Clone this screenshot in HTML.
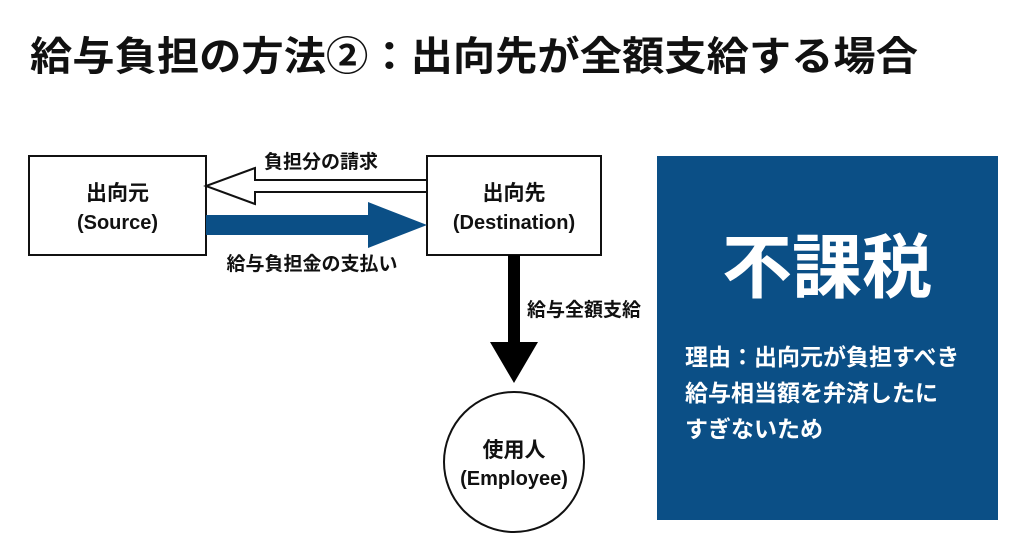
<!DOCTYPE html>
<html><head><meta charset="utf-8"><style>
body{margin:0;width:1024px;height:549px;background:#fff;overflow:hidden;font-family:"Liberation Sans","Noto Sans CJK JP",sans-serif;}
</style></head><body>
<svg width="1024" height="549" viewBox="0 0 1024 549" xmlns="http://www.w3.org/2000/svg" style="font-family:'Liberation Sans','Noto Sans CJK JP',sans-serif;font-weight:bold">
<text x="30" y="70" font-size="40" fill="#111" textLength="888" lengthAdjust="spacingAndGlyphs">給与負担の方法②：出向先が全額支給する場合</text>
<rect x="29" y="156" width="177" height="99" fill="#fff" stroke="#111" stroke-width="2"/>
<text x="117.5" y="200" font-size="21" text-anchor="middle" fill="#111">出向元</text>
<text x="117.5" y="229" font-size="20" text-anchor="middle" fill="#111">(Source)</text>
<rect x="427" y="156" width="174" height="99" fill="#fff" stroke="#111" stroke-width="2"/>
<text x="514" y="200" font-size="21" text-anchor="middle" fill="#111">出向先</text>
<text x="514" y="229" font-size="20" text-anchor="middle" fill="#111">(Destination)</text>
<polygon points="427,180 255,180 255,168 206,186 255,204 255,192 427,192" fill="#fff" stroke="#111" stroke-width="2"/>
<text x="321" y="168" font-size="19" text-anchor="middle" fill="#111">負担分の請求</text>
<polygon points="206,215 368,215 368,202 427,225 368,248 368,235 206,235" fill="#0b4f86"/>
<text x="312" y="270" font-size="19" text-anchor="middle" fill="#111">給与負担金の支払い</text>
<polygon points="508,255 520,255 520,342 538,342 514,383 490,342 508,342" fill="#000"/>
<text x="527" y="316" font-size="19" fill="#111">給与全額支給</text>
<circle cx="514" cy="462" r="70" fill="#fff" stroke="#111" stroke-width="2"/>
<text x="514" y="457" font-size="21" text-anchor="middle" fill="#111">使用人</text>
<text x="514" y="485" font-size="20" text-anchor="middle" fill="#111">(Employee)</text>
<rect x="657" y="156" width="341" height="364" fill="#0b4f86"/>
<text x="827" y="292" font-size="70" text-anchor="middle" fill="#fff">不課税</text>
<text x="685" y="365" font-size="23" fill="#fff">理由：出向元が負担すべき</text>
<text x="685" y="401" font-size="23" fill="#fff">給与相当額を弁済したに</text>
<text x="685" y="437" font-size="23" fill="#fff">すぎないため</text>
</svg>
</body></html>
